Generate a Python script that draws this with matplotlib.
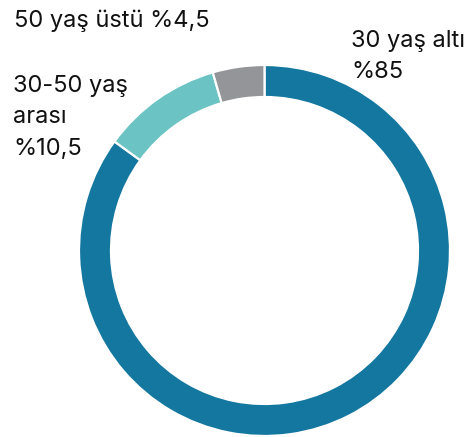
import matplotlib
matplotlib.use("Agg")
import matplotlib.pyplot as plt

categories = ["30 yaş altı", "30-50 yaş arası", "50 yaş üstü"]
values = [85, 10.5, 4.5]
colors = ["#14779f", "#6bc4c3", "#939598"]
labels = ["30 yaş altı\n%85", "30-50 yaş\narası\n%10,5", "50 yaş üstü %4,5"]

W, H = 471, 437
fig = plt.figure(figsize=(W / 100, H / 100), dpi=100)
ax = fig.add_axes([0, 0, 1, 1])

cx, cy_top, R = 264.5, 250.5, 185.5
ring = 32 / R

ax.pie(values, colors=colors, startangle=90, counterclock=False, radius=1,
       wedgeprops=dict(width=ring, edgecolor="white", linewidth=1.6))
ax.set_aspect("auto")
ax.set_xlim(-cx / R, (W - cx) / R)
ax.set_ylim(-(H - cy_top) / R, cy_top / R)
ax.axis("off")

font = dict(family=["Inter", "DejaVu Sans"], fontsize=17, color="#111111")

def px(x, y_top):
    return x / W, 1 - y_top / H

fig.text(*px(14, 27), labels[2], ha="left", va="baseline", **font)
fig.text(*px(13, 92), "30-50 yaş", ha="left", va="baseline", **font)
fig.text(*px(13, 123), "arası", ha="left", va="baseline", **font)
fig.text(*px(13, 155), "%10,5", ha="left", va="baseline", **font)
fig.text(*px(351, 47), "30 yaş altı", ha="left", va="baseline", **font)
fig.text(*px(351, 78), "%85", ha="left", va="baseline", **font)

fig.savefig("out.png", dpi=100)
